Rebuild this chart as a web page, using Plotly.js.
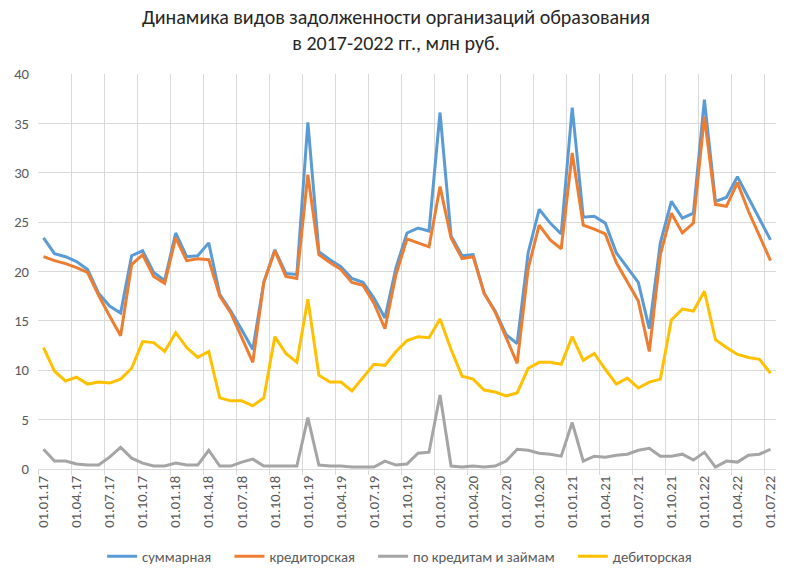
<!DOCTYPE html>
<html>
<head>
<meta charset="utf-8">
<script src="https://cdn.plot.ly/plotly-3.0.1.min.js"></script>
<style>
  html, body { margin: 0; padding: 0; background: #ffffff; }
  #chart { width: 792px; height: 578px; }
</style>
</head>
<body>
<div id="chart"></div>
<script>
// Monthly reporting dates, Jan 2017 – Jul 2022
const dates = [
  "01.01.17","01.02.17","01.03.17","01.04.17","01.05.17","01.06.17","01.07.17","01.08.17","01.09.17","01.10.17","01.11.17","01.12.17",
  "01.01.18","01.02.18","01.03.18","01.04.18","01.05.18","01.06.18","01.07.18","01.08.18","01.09.18","01.10.18","01.11.18","01.12.18",
  "01.01.19","01.02.19","01.03.19","01.04.19","01.05.19","01.06.19","01.07.19","01.08.19","01.09.19","01.10.19","01.11.19","01.12.19",
  "01.01.20","01.02.20","01.03.20","01.04.20","01.05.20","01.06.20","01.07.20","01.08.20","01.09.20","01.10.20","01.11.20","01.12.20",
  "01.01.21","01.02.21","01.03.21","01.04.21","01.05.21","01.06.21","01.07.21","01.08.21","01.09.21","01.10.21","01.11.21","01.12.21",
  "01.01.22","01.02.22","01.03.22","01.04.22","01.05.22","01.06.22","01.07.22"
];

// Debt by type, mln rub.
const total = [
  23.4,21.8,21.5,21.0,20.2,17.8,16.5,15.8,21.6,22.1,19.9,19.1,
  23.9,21.5,21.6,22.9,17.7,16.0,14.1,12.1,18.9,22.2,19.8,19.7,
  35.1,22.0,21.2,20.5,19.3,18.9,17.3,15.3,20.4,23.9,24.4,24.1,
  36.1,23.6,21.6,21.7,17.8,16.0,13.6,12.7,21.9,26.3,24.9,23.8,
  36.6,25.5,25.6,24.9,21.9,20.4,18.9,14.2,22.9,27.1,25.4,25.9,
  37.4,27.1,27.5,29.6,27.5,25.3,23.2
];
const payables = [
  21.5,21.1,20.8,20.4,19.9,17.6,15.5,13.5,20.7,21.7,19.5,18.8,
  23.4,21.1,21.3,21.2,17.5,15.8,13.3,10.8,18.9,22.1,19.5,19.3,
  29.8,21.7,20.9,20.2,18.9,18.6,16.8,14.2,19.7,23.3,22.9,22.5,
  28.6,23.4,21.3,21.5,17.8,15.9,13.3,10.7,20.3,24.7,23.2,22.3,
  32.0,24.7,24.3,23.8,20.9,19.0,17.0,11.9,21.7,25.9,23.9,24.9,
  35.7,26.8,26.6,29.0,26.1,23.6,21.1
];
const loans = [
  2.0,0.8,0.8,0.5,0.4,0.4,1.2,2.2,1.1,0.6,0.3,0.3,
  0.6,0.4,0.4,1.9,0.3,0.3,0.7,1.0,0.3,0.3,0.3,0.3,
  5.2,0.4,0.3,0.3,0.2,0.2,0.2,0.8,0.4,0.5,1.6,1.7,
  7.5,0.3,0.2,0.3,0.2,0.3,0.8,2.0,1.9,1.6,1.5,1.3,
  4.7,0.8,1.3,1.2,1.4,1.5,1.9,2.1,1.3,1.3,1.5,0.9,
  1.7,0.2,0.8,0.7,1.4,1.5,2.0
];
const receivables = [
  12.3,9.9,8.9,9.3,8.6,8.8,8.7,9.1,10.2,12.9,12.8,11.9,
  13.8,12.3,11.3,11.9,7.2,6.9,6.9,6.4,7.2,13.4,11.7,10.8,
  17.2,9.5,8.8,8.8,7.9,9.2,10.6,10.5,11.9,13.0,13.4,13.3,
  15.2,12.1,9.4,9.1,8.0,7.8,7.4,7.7,10.2,10.8,10.8,10.6,
  13.4,11.0,11.7,10.1,8.6,9.2,8.2,8.8,9.1,15.1,16.2,16.0,
  18.0,13.1,12.3,11.6,11.3,11.1,9.7
];

const seriesNames = ["суммарная", "кредиторская", "по кредитам и займам", "дебиторская"];
const seriesColors = ["#5B9BD5", "#ED7D31", "#A5A5A5", "#FFC000"];
const seriesValues = [total, payables, loans, receivables];

const FONT = "Calibri, Carlito, 'Liberation Sans', Arial, sans-serif";
const PAD = "\u00a0\u00a0\u00a0\u00a0"; // extra room between legend entries

const traces = seriesValues.map((vals, k) => ({
  type: "scatter",
  mode: "lines",
  name: seriesNames[k] + (k < seriesNames.length - 1 ? PAD : ""),
  x: dates,
  y: vals,
  line: { color: seriesColors[k], width: 3, shape: "linear" },
  hoverinfo: "x+y+name"
}));

const layout = {
  width: 792,
  height: 578,
  paper_bgcolor: "#ffffff",
  plot_bgcolor: "#ffffff",
  margin: { l: 38, r: 16, t: 74, b: 109, autoexpand: false },
  font: { family: FONT, color: "#595959", size: 14.67 },
  title: {
    text: "Динамика видов задолженности организаций образования<br>в 2017-2022 гг., млн руб.",
    font: { family: FONT, size: 20, color: "#262626" },
    x: 0.5,
    xanchor: "center",
    y: 0.958,
    yanchor: "top"
  },
  xaxis: {
    type: "category",
    categoryorder: "array",
    categoryarray: dates,
    range: [-0.5, dates.length - 0.5],
    tickmode: "linear",
    tick0: 0,
    dtick: 3,
    tickson: "boundaries",
    tickangle: -90,
    ticks: "outside",
    ticklen: 5,
    tickcolor: "#d9d9d9",
    showgrid: true,
    gridcolor: "#d9d9d9",
    gridwidth: 1,
    showline: true,
    linecolor: "#d9d9d9",
    linewidth: 1,
    automargin: false,
    tickfont: { family: FONT, size: 14.67, color: "#595959" },
    fixedrange: true
  },
  yaxis: {
    range: [0, 40],
    tickmode: "linear",
    tick0: 0,
    dtick: 5,
    showgrid: true,
    gridcolor: "#d9d9d9",
    gridwidth: 1,
    zeroline: true,
    zerolinecolor: "#d9d9d9",
    zerolinewidth: 1,
    showline: false,
    ticks: "",
    ticklabelstandoff: 8,
    automargin: false,
    tickfont: { family: FONT, size: 14.67, color: "#595959" },
    fixedrange: true
  },
  showlegend: true,
  legend: {
    orientation: "h",
    x: 0.49,
    xanchor: "center",
    y: -0.222,
    yanchor: "middle",
    font: { family: FONT, size: 14.67, color: "#595959" },
    itemwidth: 30,
    traceorder: "normal",
    bgcolor: "rgba(0,0,0,0)"
  }
};

Plotly.newPlot("chart", traces, layout, { displayModeBar: false, staticPlot: true });
</script>
</body>
</html>
